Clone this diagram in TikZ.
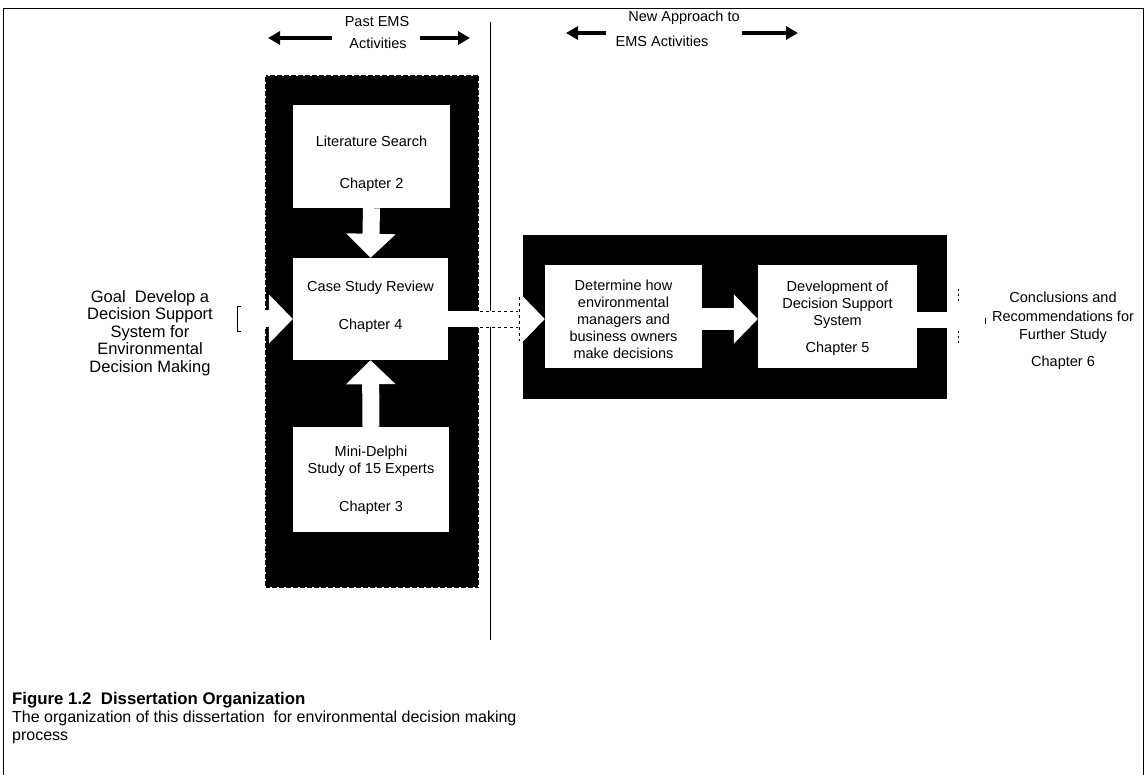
\documentclass[tikz,border=0pt]{standalone}
\usepackage{fontspec}
\setmainfont{Liberation Sans}
\usetikzlibrary{arrows.meta}

\begin{document}
\begin{tikzpicture}[x=1pt,y=-1pt,
  txt/.style={font=\fontsize{14.5}{17}\selectfont, align=center, inner sep=0pt},
  wbox/.style={fill=white, draw=none, inner sep=0pt},
  blackpanel/.style={fill=black, draw=white, line width=1.2pt, dash pattern=on 2pt off 5pt},
  solidpanel/.style={fill=black, draw=black},
  blockarrow/.style={white, line width=17pt, -{Triangle[width=48pt,length=24pt]}},
  headarrow/.style={black, line width=4pt, -{Triangle[width=13pt,length=12pt]}},
  frame/.style={black, line width=0.8pt}
]
\useasboundingbox (0,0) rectangle (1146,775);

% outer frame (open at the bottom)
\draw[frame] (3,775) -- (3,8) -- (1143,8) -- (1143,775);

% divider between the two phases
\coordinate (divtop) at (490,22);
\coordinate (divbot) at (490,640);
\draw[black, line width=1pt] (divtop) -- (divbot);

% column headings
\node[txt] (pastA) at (377,22) {Past EMS};
\node[txt] (pastB) at (378,43) {Activities};
\node[txt] (newA) at (684,18) {New Approach to};
\node[txt] (newB) at (662,41) {EMS Activities};
\coordinate (pl0) at (332,38); \coordinate (pl1) at (268,38);
\coordinate (pr0) at (420,38); \coordinate (pr1) at (470,38);
\coordinate (nl0) at (606,33); \coordinate (nl1) at (566,33);
\coordinate (nr0) at (742,33); \coordinate (nr1) at (798,33);
\draw[headarrow] (pl0) -- (pl1);
\draw[headarrow] (pr0) -- (pr1);
\draw[headarrow] (nl0) -- (nl1);
\draw[headarrow] (nr0) -- (nr1);

% black panels
\path[blackpanel] (265,75) rectangle (479,588);
\path[solidpanel] (523,235) rectangle (946,398);

% boxes in the left panel
\node[wbox, minimum width=157pt, minimum height=103pt] (lit) at (371.5,156.5) {};
\node[txt] (littxt) at ([yshift=-7pt]lit.center) {Literature Search\\[25pt]Chapter 2};
\node[wbox, minimum width=155pt, minimum height=102pt] (case) at (370.5,309) {};
\node[txt] (casetxt) at ([yshift=2pt]case.center) {Case Study Review\\[21pt]Chapter 4};
\node[wbox, minimum width=156pt, minimum height=105pt] (delphi) at (371,479.5) {};
\node[txt] (delphitxt) at ([yshift=-1pt]delphi.center) {Mini-Delphi\\Study of 15 Experts\\[21pt]Chapter 3};

% boxes in the right panel
\node[wbox, minimum width=157pt, minimum height=103pt] (determine) at (623.5,317) {};
\node[txt] (dettxt) at ([yshift=-2.5pt]determine.center)
  {Determine how\\environmental\\managers and\\business owners\\make decisions};
\node[wbox, minimum width=159pt, minimum height=103pt] (develop) at (837.5,317) {};
\node[txt] (devtxt) at ([yshift=-1pt]develop.center)
  {Development of\\Decision Support\\System\\[10pt]Chapter 5};

% free-standing texts
\node[txt, font=\fontsize{16.5}{17.5}\selectfont] (goal) at (150,333)
  {Goal\ \ Develop a\\Decision Support\\System for\\Environmental\\Decision Making};
\node[txt, font=\fontsize{14.5}{18.5}\selectfont] (concl) at (1063,331)
  {Conclusions and\\Recommendations for\\Further Study\\[8pt]Chapter 6};

% block arrows
\coordinate (goalend) at (238,319);
\draw[blockarrow] (goalend) -- (case.west |- goalend);
\draw[black, line width=0.8pt] (241,306) -- (237,306) -- (237,331) -- (241,331);
\draw[blockarrow] (lit.south) -- (case.north);
\draw[blockarrow] (delphi.north) -- (case.south);
\draw[blockarrow, line width=16pt] (case.east |- goalend) -- (determine.west |- goalend);
\draw[black, line width=0.5pt, dash pattern=on 3pt off 3pt]
  (480,311) -- (518,311) (480,327) -- (518,327) (519,297) -- (519,341);
\draw[blockarrow, line width=22pt] (determine.east |- goalend) -- (develop.west |- goalend);
\coordinate (outend) at (985,320);
\draw[blockarrow, line width=16pt] (develop.east |- outend) -- (outend);
\draw[black, line width=0.6pt, dash pattern=on 2pt off 3pt] (958,289) -- (958,303) (958,331) -- (958,345);
\draw[black, line width=0.6pt] (985,318) -- (985,324);

% caption
\node[anchor=base west, inner sep=0pt, font=\fontsize{16.8}{19}\selectfont\bfseries] (captitle) at (12,704)
  {Figure 1.2\ \ Dissertation Organization};
\node[anchor=north west, inner sep=0pt, align=left, font=\fontsize{16}{18}\selectfont] (captext) at (12,711)
  {The organization of this dissertation\ \ for environmental decision making\\process};
\end{tikzpicture}
\end{document}
